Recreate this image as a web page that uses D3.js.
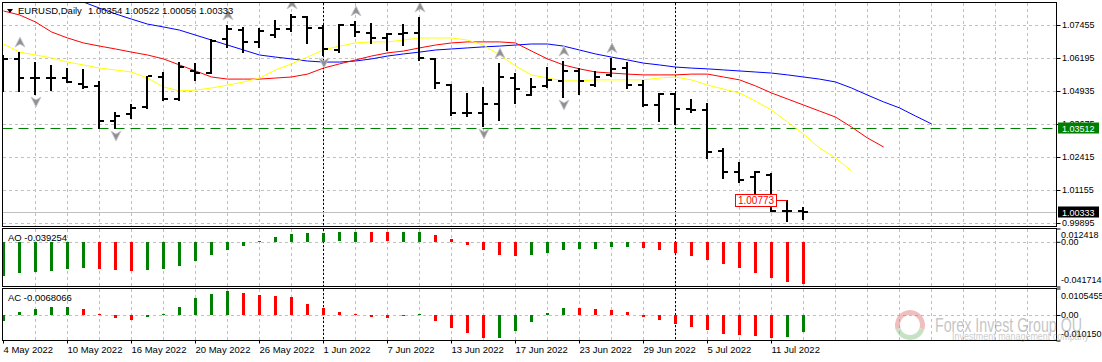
<!DOCTYPE html>
<html>
<head>
<meta charset="utf-8">
<script src="https://cdn.jsdelivr.net/npm/d3@7"></script>
<style>
  body { margin: 0; background: #fff; }
  svg { display: block; font-family: "Liberation Sans", Arial, sans-serif; }
</style>
</head>
<body>
<svg id="chart" width="1102" height="362"></svg>
<script>
/////////////////////////////////////////////// DATOS

var dateLabels = ["4 May 2022", "10 May 2022", "16 May 2022", "20 May 2022", "26 May 2022", "1 Jun 2022",
  "7 Jun 2022", "13 Jun 2022", "17 Jun 2022", "23 Jun 2022", "29 Jun 2022", "5 Jul 2022", "11 Jul 2022"];
var dateBars = [0, 4, 8, 12, 16, 20, 24, 28, 32, 36, 40, 44, 48];
var monthStarts = [20, 42];

var opens = [1.0513, 1.0616, 1.0543, 1.0543, 1.0543, 1.0520, 1.0513, 1.0379, 1.0406, 1.0432, 1.0547, 1.0463, 1.0570,
  1.0562, 1.0692, 1.0726, 1.0681, 1.0707, 1.0730, 1.0776, 1.0734, 1.0650, 1.0746, 1.0715, 1.0696, 1.0711, 1.0715,
  1.0616, 1.0516, 1.0410, 1.0410, 1.0444, 1.0543, 1.0478, 1.0513, 1.0532, 1.0570, 1.0516, 1.0555, 1.0581, 1.0516,
  1.0440, 1.0482, 1.0425, 1.0421, 1.0264, 1.0184, 1.0165, 1.0173, 1.0035, 1.00354];
var highs = [1.0631, 1.0642, 1.0604, 1.0593, 1.0581, 1.0578, 1.0532, 1.0413, 1.0444, 1.0551, 1.0566, 1.0604, 1.0600,
  1.0692, 1.0746, 1.0738, 1.0734, 1.0765, 1.0788, 1.0780, 1.0746, 1.0749, 1.0761, 1.0753, 1.0715, 1.0749, 1.0776,
  1.0620, 1.0520, 1.0486, 1.0509, 1.0600, 1.0562, 1.0543, 1.0585, 1.0608, 1.0581, 1.0570, 1.0620, 1.0604, 1.0536,
  1.0486, 1.0486, 1.0463, 1.0448, 1.0276, 1.0222, 1.0188, 1.0180, 1.0077, 1.00522];
var lows = [1.0494, 1.0494, 1.0482, 1.0497, 1.0528, 1.0505, 1.0352, 1.0352, 1.0390, 1.0429, 1.0459, 1.0459, 1.0536,
  1.0562, 1.0662, 1.0642, 1.0662, 1.0700, 1.0723, 1.0677, 1.0631, 1.0642, 1.0704, 1.0677, 1.0650, 1.0669, 1.0612,
  1.0505, 1.0402, 1.0398, 1.0360, 1.0383, 1.0448, 1.0478, 1.0509, 1.0471, 1.0482, 1.0513, 1.0551, 1.0505, 1.0436,
  1.0379, 1.0368, 1.0413, 1.0238, 1.0161, 1.0146, 1.0077, 1.0035, 0.9997, 1.00056];
var closes = [1.0616, 1.0543, 1.0543, 1.0543, 1.0528, 1.0509, 1.0379, 1.0398, 1.0429, 1.0551, 1.0463, 1.0585, 1.0562,
  1.0684, 1.0730, 1.0681, 1.0723, 1.0730, 1.0776, 1.0734, 1.0654, 1.0746, 1.0719, 1.0696, 1.0711, 1.0715, 1.0620,
  1.0524, 1.0410, 1.0410, 1.0444, 1.0547, 1.0501, 1.0509, 1.0536, 1.0570, 1.0532, 1.0547, 1.0578, 1.0516, 1.0440,
  1.0482, 1.0425, 1.0421, 1.0261, 1.0184, 1.0154, 1.0184, 1.0035, 1.0035, 1.00333];

// alligator (ya desplazado, un valor por barra desde la barra 0)
var jaw = [1.0936, 1.0917, 1.0894, 1.0875, 1.0852, 1.0833, 1.0810, 1.0788, 1.0768, 1.0749,
  1.0738, 1.0726, 1.0707, 1.0688, 1.0669, 1.0650, 1.0631, 1.0623, 1.0616, 1.0608,
  1.0604, 1.0604, 1.0608, 1.0616, 1.0627, 1.0635, 1.0642, 1.0650, 1.0654, 1.0658,
  1.0662, 1.0665, 1.0669, 1.0673, 1.0673, 1.0665, 1.0650, 1.0635, 1.0623, 1.0612,
  1.0600, 1.0593, 1.0585, 1.0581, 1.0578, 1.0574, 1.0570, 1.0566, 1.0562, 1.0555,
  1.0547, 1.0539, 1.0528, 1.0505, 1.0478, 1.0452, 1.0429, 1.0398, 1.0368];
var teeth = [1.0799, 1.0784, 1.0757, 1.0719, 1.0696, 1.0677, 1.0665, 1.0654, 1.0642, 1.0631,
  1.0616, 1.0593, 1.0570, 1.0547, 1.0539, 1.0539, 1.0539, 1.0543, 1.0547, 1.0558,
  1.0581, 1.0597, 1.0612, 1.0627, 1.0639, 1.0646, 1.0658, 1.0669, 1.0677, 1.0681,
  1.0681, 1.0681, 1.0677, 1.0646, 1.0616, 1.0593, 1.0578, 1.0566, 1.0562, 1.0558,
  1.0555, 1.0555, 1.0555, 1.0558, 1.0558, 1.0547, 1.0536, 1.0513, 1.0486, 1.0463,
  1.0440, 1.0417, 1.0394, 1.0356, 1.0314, 1.0280];
var lips = [1.0673, 1.0642, 1.0631, 1.0620, 1.0604, 1.0593, 1.0581, 1.0574, 1.0566, 1.0543,
  1.0509, 1.0494, 1.0497, 1.0505, 1.0516, 1.0528, 1.0543, 1.0574, 1.0597, 1.0623,
  1.0650, 1.0665, 1.0677, 1.0681, 1.0681, 1.0688, 1.0696, 1.0696, 1.0696, 1.0688,
  1.0669, 1.0631, 1.0589, 1.0555, 1.0543, 1.0532, 1.0532, 1.0536, 1.0536, 1.0536,
  1.0536, 1.0543, 1.0547, 1.0536, 1.0516, 1.0501, 1.0486, 1.0455, 1.0421, 1.0375,
  1.0329, 1.0276, 1.0238, 1.0188];

var fractalUp = [1, 14, 18, 22, 26, 31, 35, 38];
var fractalDown = [2, 7, 20, 30, 35];

var aoValues = [-0.0318, -0.0293, -0.0277, -0.0268, -0.0249, -0.0240, -0.0249, -0.0259, -0.0268, -0.0259,
  -0.0249, -0.0221, -0.0175, -0.0119, -0.0075, -0.0035, 0.0005, 0.0047, 0.0075, 0.0084,
  0.0086, 0.0088, 0.0096, 0.0089, 0.0087, 0.0093, 0.0096, 0.0065, 0.0028, -0.0028,
  -0.0075, -0.0121, -0.0131, -0.0121, -0.0100, -0.0075, -0.0068, -0.0062, -0.0050, -0.0045,
  -0.0056, -0.0075, -0.0100, -0.0131, -0.0168, -0.0206, -0.0246, -0.0290, -0.0336, -0.0371,
  -0.039254];
var aoUp = [1, 1, 1, 1, 1, 1, 0, 0, 0, 1, 1, 1, 1, 1, 1, 1, 1, 1, 1, 1, 1, 1, 1, 0, 0, 1, 1, 0, 0, 0,
  0, 0, 0, 1, 1, 1, 1, 1, 1, 1, 0, 0, 0, 0, 0, 0, 0, 0, 0, 0, 0];
var acValues = [-0.0025, 0.0011, 0.0025, 0.0031, 0.0033, 0.0025, 0.0005, -0.0013, -0.0019, -0.0009,
  0.0005, 0.0033, 0.0066, 0.0085, 0.0094, 0.0089, 0.0081, 0.0077, 0.0070, 0.0045,
  0.0027, 0.0013, 0.0004, -0.0007, -0.0011, -0.0002, 0.0004, -0.0022, -0.0053, -0.0073,
  -0.0093, -0.0092, -0.0065, -0.0029, 0.0009, 0.0029, 0.0027, 0.0025, 0.0021, 0.0013,
  -0.0007, -0.0021, -0.0037, -0.0049, -0.0061, -0.0077, -0.0081, -0.0085, -0.0093, -0.0089,
  -0.0068066];
var acUp = [1, 1, 1, 1, 1, 0, 0, 0, 0, 1, 1, 1, 1, 1, 1, 0, 0, 0, 0, 0, 0, 0, 0, 0, 0, 1, 1, 0, 0, 0,
  0, 1, 1, 1, 1, 1, 0, 0, 0, 0, 0, 0, 0, 0, 0, 0, 0, 0, 0, 1, 1];

var priceTicks = [1.07455, 1.06195, 1.04935, 1.03675, 1.02415, 1.01155, 0.99895];
var aoTicks = [0.012418, 0, -0.041714];
var acTicks = [0.0105455, 0, -0.010150];
var levelLine = 1.03512;
var bidPrice = 1.00333;
var markPrice = 1.00773;
var markBar = 47;

/////////////////////////////////////////////// ESCALAS

var svg = d3.select("#chart");
var L = 2.5, R = 1056.5;
var mainTop = 2.5, mainBot = 226.5, aoTop = 228.5, aoBot = 286.5, acTop = 288.5, acBot = 340.5;

var x = d3.scaleLinear().domain([0, 1]).range([3, 19]);
var y = d3.scaleLinear().domain([0.99895, 1.07455]).range([223, 25]);
var yAO = d3.scaleLinear().domain([-0.041714, 0.012418]).range([aoBot, aoTop]);
var yAC = d3.scaleLinear().domain([-0.010150, 0.0105455]).range([acBot, acTop]);

var green = "#008000", red = "#ff0000", gridC = "#c0c0c0";

svg.append("defs").append("clipPath").attr("id", "clipMain")
  .append("rect").attr("x", L).attr("y", mainTop).attr("width", R - L).attr("height", mainBot - mainTop);

/////////////////////////////////////////////// REJILLA

var panels = [[mainTop, mainBot], [aoTop, aoBot], [acTop, acBot]];
var gridX = [];
for (var j = 1; x(2 * j) + 0.5 < R; j++) gridX.push(x(2 * j) + 0.5);

panels.forEach(function (p) {
  svg.append("g").selectAll("line").data(gridX).join("line")
    .attr("x1", d => d).attr("x2", d => d).attr("y1", p[0]).attr("y2", p[1])
    .attr("stroke", gridC).attr("stroke-dasharray", "3,3").attr("shape-rendering", "crispEdges");
});

svg.append("g").selectAll("line").data(priceTicks).join("line")
  .attr("x1", L).attr("x2", R).attr("y1", d => Math.round(y(d)) + 0.5).attr("y2", d => Math.round(y(d)) + 0.5)
  .attr("stroke", gridC).attr("stroke-dasharray", "3,3").attr("shape-rendering", "crispEdges");

[[yAO, aoTop], [yAC, acTop]].forEach(function (s) {
  var zy = Math.round(s[0](0)) + 0.5;
  svg.append("line").attr("x1", L).attr("x2", R).attr("y1", zy).attr("y2", zy)
    .attr("stroke", gridC).attr("stroke-dasharray", "3,3").attr("shape-rendering", "crispEdges");
});

// separadores de mes
panels.forEach(function (p) {
  svg.append("g").selectAll("line").data(monthStarts).join("line")
    .attr("x1", d => x(d) + 0.5).attr("x2", d => x(d) + 0.5).attr("y1", p[0]).attr("y2", p[1])
    .attr("stroke", "#000").attr("stroke-dasharray", "2,2").attr("shape-rendering", "crispEdges");
});

// linea bid
var bidY = Math.round(y(bidPrice)) + 0.5;
svg.append("line").attr("x1", L).attr("x2", R).attr("y1", bidY).attr("y2", bidY)
  .attr("stroke", gridC).attr("shape-rendering", "crispEdges");

// nivel horizontal verde
var lvlY = Math.round(y(levelLine)) + 0.5;
svg.append("line").attr("x1", L).attr("x2", R).attr("y1", lvlY).attr("y2", lvlY)
  .attr("stroke", green).attr("stroke-width", 1.2).attr("stroke-dasharray", "10,6");

/////////////////////////////////////////////// ALLIGATOR

var main = svg.append("g").attr("clip-path", "url(#clipMain)");
var line = d3.line().x((d, i) => x(i) + 0.5).y(d => y(d));
[[jaw, "#0000ff"], [teeth, red], [lips, "#ffff00"]].forEach(function (s) {
  main.append("path").datum(s[0]).attr("d", line).attr("fill", "none").attr("stroke", s[1]).attr("stroke-width", 1);
});

/////////////////////////////////////////////// BARRAS OHLC

var bars = main.append("g").attr("fill", "#000").attr("shape-rendering", "crispEdges");
for (var i = 0; i < opens.length; i++) {
  var cx = x(i);
  var yh = Math.round(y(highs[i])), yl = Math.round(y(lows[i]));
  var yo = Math.round(y(opens[i])), yc = Math.round(y(closes[i]));
  bars.append("rect").attr("x", cx - 1).attr("y", yh).attr("width", 2).attr("height", Math.max(2, yl - yh + 1));
  bars.append("rect").attr("x", cx - 5).attr("y", yo - 1).attr("width", 4).attr("height", 2);
  bars.append("rect").attr("x", cx + 1).attr("y", yc - 1).attr("width", 4).attr("height", 2);
}

/////////////////////////////////////////////// FRACTALES

var upPath = "M0,-5L5,5L0,2L-5,5Z";
var downPath = "M0,5L5,-5L0,-2L-5,-5Z";
main.append("g").selectAll("path").data(fractalUp).join("path")
  .attr("d", upPath).attr("transform", d => "translate(" + (x(d) + 1) + "," + (y(highs[d]) - 10) + ")")
  .attr("fill", "#909090").attr("stroke", "#c8c8d0").attr("stroke-width", 0.8);
main.append("g").selectAll("path").data(fractalDown).join("path")
  .attr("d", downPath).attr("transform", d => "translate(" + (x(d) + 1) + "," + (y(lows[d]) + 8) + ")")
  .attr("fill", "#909090").attr("stroke", "#c8c8d0").attr("stroke-width", 0.8);

// etiqueta de precio roja
var my = Math.round(y(markPrice));
svg.append("line").attr("x1", x(markBar + 1) - 5).attr("x2", x(markBar + 2)).attr("y1", my + 0.5).attr("y2", my + 0.5)
  .attr("stroke", red);
svg.append("rect").attr("x", x(markBar) - 19.5).attr("y", my - 5.5).attr("width", 41).attr("height", 12)
  .attr("fill", "#fff").attr("stroke", red);
svg.append("text").attr("x", x(markBar) + 1).attr("y", my + 4).attr("text-anchor", "middle")
  .attr("font-size", "10px").attr("fill", red).text(markPrice.toFixed(5));

/////////////////////////////////////////////// AO / AC

var ao = svg.append("g").attr("shape-rendering", "crispEdges");
ao.selectAll("rect").data(aoValues).join("rect")
  .attr("x", (d, i) => x(i) - 1).attr("width", 3)
  .attr("y", d => Math.round(Math.min(yAO(d), yAO(0))))
  .attr("height", d => Math.max(1, Math.round(Math.abs(yAO(d) - yAO(0)))))
  .attr("fill", (d, i) => aoUp[i] ? green : red);

var ac = svg.append("g").attr("shape-rendering", "crispEdges");
ac.selectAll("rect").data(acValues).join("rect")
  .attr("x", (d, i) => x(i) - 1).attr("width", 3)
  .attr("y", d => Math.round(Math.min(yAC(d), yAC(0))))
  .attr("height", d => Math.max(1, Math.round(Math.abs(yAC(d) - yAC(0)))))
  .attr("fill", (d, i) => acUp[i] ? green : red);

/////////////////////////////////////////////// BORDES

panels.forEach(function (p) {
  svg.append("rect").attr("x", L).attr("y", p[0]).attr("width", R - L).attr("height", p[1] - p[0])
    .attr("fill", "none").attr("stroke", "#000").attr("shape-rendering", "crispEdges");
});

/////////////////////////////////////////////// EJES

var fs = "9.5px", fsN = "9px";
var pAxis = svg.append("g").attr("transform", "translate(" + R + ",0)")
  .call(d3.axisRight(y).tickValues(priceTicks).tickFormat(d3.format(".5f")).tickSize(4).tickPadding(1.5));
pAxis.select(".domain").remove();
pAxis.selectAll("text").attr("font-size", fsN).attr("font-family", "Liberation Sans, Arial, sans-serif").attr("fill", "#000");
pAxis.selectAll(".tick").attr("transform", d => "translate(0," + (Math.round(y(d)) + 0.5) + ")");

var aoFmt = ["0.012418", "0.00", "-0.041714"];
var aoShift = [6, 0, -7];
var aoAxis = svg.append("g").attr("transform", "translate(" + R + ",0)")
  .call(d3.axisRight(yAO).tickValues(aoTicks).tickFormat((d, i) => aoFmt[i]).tickSize(4).tickPadding(0.5));
aoAxis.select(".domain").remove();
aoAxis.selectAll("text").attr("font-size", fsN).attr("font-family", "Liberation Sans, Arial, sans-serif")
  .attr("fill", "#000").attr("y", (d, i) => aoShift[i]);

var acFmt = ["0.0105455", "0.00", "-0.010150"];
var acShift = [7.5, 0, -6.5];
var acAxis = svg.append("g").attr("transform", "translate(" + R + ",0)")
  .call(d3.axisRight(yAC).tickValues(acTicks).tickFormat((d, i) => acFmt[i]).tickSize(4).tickPadding(0.5));
acAxis.select(".domain").remove();
acAxis.selectAll("text").attr("font-size", fsN).attr("font-family", "Liberation Sans, Arial, sans-serif")
  .attr("fill", "#000").attr("y", (d, i) => acShift[i]);

// cajas de precio
var lvlBox = svg.append("g");
lvlBox.append("rect").attr("x", 1058).attr("y", lvlY - 6).attr("width", 41).attr("height", 11).attr("fill", green);
lvlBox.append("text").attr("x", 1062).attr("y", lvlY + 3.5).attr("font-size", fsN).attr("fill", "#fff").text(levelLine.toFixed(5));
var bidBox = svg.append("g");
bidBox.append("rect").attr("x", 1058).attr("y", bidY - 6).attr("width", 41).attr("height", 11).attr("fill", "#000");
bidBox.append("text").attr("x", 1062).attr("y", bidY + 3.5).attr("font-size", fsN).attr("fill", "#fff").text(bidPrice.toFixed(5));

var xAxis = svg.append("g").attr("transform", "translate(0," + acBot + ")")
  .call(d3.axisBottom(x).tickValues(dateBars).tickFormat((d, i) => dateLabels[i]).tickSize(3).tickPadding(3));
xAxis.select(".domain").remove();
xAxis.selectAll(".tick").attr("transform", d => "translate(" + (x(d) + 0.5) + ",0)");
xAxis.selectAll("text").attr("font-size", fs).attr("font-family", "Liberation Sans, Arial, sans-serif")
  .attr("fill", "#000").attr("text-anchor", "start").attr("x", 0);

/////////////////////////////////////////////// TEXTOS

svg.append("path").attr("d", "M7,9L13,9L10,13Z").attr("fill", "#000");
svg.append("text").attr("x", 18).attr("y", 14).attr("font-size", fs).text("EURUSD,Daily");
svg.append("text").attr("x", 88).attr("y", 14).attr("font-size", fs)
  .text([opens[50], highs[50], lows[50], closes[50]].map(d => d.toFixed(5)).join(" "));
svg.append("text").attr("x", 8).attr("y", 241).attr("font-size", fs).text("AO " + aoValues[50].toFixed(6));
svg.append("text").attr("x", 8).attr("y", 301).attr("font-size", fs).text("AC " + acValues[50].toFixed(7));

/////////////////////////////////////////////// MARCA DE AGUA

var wm = svg.append("g").attr("opacity", 0.45);
wm.append("path").attr("d", d3.arc()({ innerRadius: 10, outerRadius: 15, startAngle: -Math.PI * 0.6, endAngle: Math.PI * 0.6 }))
  .attr("transform", "translate(910,325)").attr("fill", "#e07070");
wm.append("path").attr("d", d3.arc()({ innerRadius: 10, outerRadius: 15, startAngle: Math.PI * 0.6, endAngle: Math.PI * 1.4 }))
  .attr("transform", "translate(910,325)").attr("fill", "#80c080");
wm.append("text").attr("x", 935).attr("y", 332).attr("font-size", "20px").attr("fill", "#808080")
  .attr("textLength", 147).attr("lengthAdjust", "spacingAndGlyphs").text("Forex Invest Group OU");
wm.append("text").attr("x", 952).attr("y", 340).attr("font-size", "10px").attr("fill", "#909090")
  .attr("textLength", 137).attr("lengthAdjust", "spacingAndGlyphs").text("Investment management company");
</script>
</body>
</html>
